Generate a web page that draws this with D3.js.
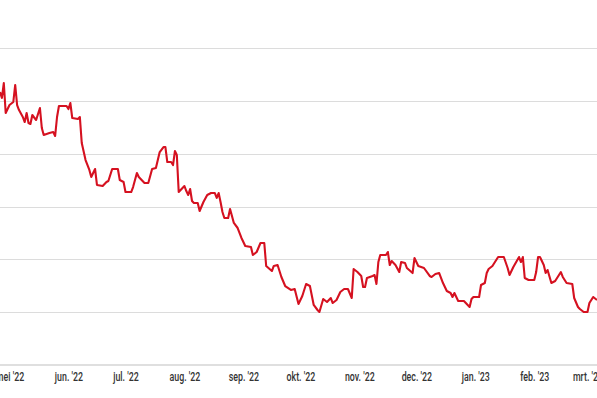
<!DOCTYPE html>
<html>
<head>
<meta charset="utf-8">
<script src="https://cdn.jsdelivr.net/npm/d3@7"></script>
<style>
  body { margin: 0; background: #fff; }
  .tick text { font-family: "Roboto", "Liberation Sans", sans-serif; font-weight: 500; }
</style>
</head>
<body>
<div id="line-graph"></div>
<script>
var width = 597, height = 398

// Data: dates and values
var dates = ["2022-04-26","2022-04-27","2022-04-28","2022-04-29","2022-05-01","2022-05-03","2022-05-04","2022-05-05","2022-05-06","2022-05-08",
  "2022-05-09","2022-05-10","2022-05-11","2022-05-12","2022-05-13","2022-05-15","2022-05-17","2022-05-18","2022-05-19","2022-05-22",
  "2022-05-24","2022-05-25","2022-05-26","2022-05-27","2022-05-31","2022-06-01","2022-06-02","2022-06-03","2022-06-06","2022-06-07",
  "2022-06-08","2022-06-10","2022-06-12","2022-06-13","2022-06-15","2022-06-16","2022-06-19","2022-06-21","2022-06-22","2022-06-24",
  "2022-06-27","2022-06-28","2022-06-30","2022-07-01","2022-07-04","2022-07-05","2022-07-07","2022-07-08","2022-07-11","2022-07-13",
  "2022-07-15","2022-07-17","2022-07-19","2022-07-21","2022-07-22","2022-07-23","2022-07-25","2022-07-26","2022-07-27","2022-07-28",
  "2022-07-29","2022-08-01","2022-08-02","2022-08-03","2022-08-04","2022-08-05","2022-08-06","2022-08-08","2022-08-09","2022-08-11",
  "2022-08-13","2022-08-15","2022-08-17","2022-08-18","2022-08-19","2022-08-20","2022-08-21","2022-08-22","2022-08-24","2022-08-25",
  "2022-08-27","2022-08-29","2022-08-31","2022-09-02","2022-09-05","2022-09-06","2022-09-08","2022-09-10","2022-09-12","2022-09-13",
  "2022-09-16","2022-09-17","2022-09-19","2022-09-21","2022-09-23","2022-09-26","2022-09-28","2022-09-30","2022-10-02","2022-10-04",
  "2022-10-06","2022-10-08","2022-10-10","2022-10-11","2022-10-13","2022-10-15","2022-10-17","2022-10-18","2022-10-20","2022-10-22",
  "2022-10-24","2022-10-26","2022-10-28","2022-10-29","2022-10-31","2022-11-02","2022-11-03","2022-11-04","2022-11-05","2022-11-08",
  "2022-11-09","2022-11-10","2022-11-11","2022-11-12","2022-11-15","2022-11-16","2022-11-17","2022-11-18","2022-11-20","2022-11-22",
  "2022-11-23","2022-11-25","2022-11-26","2022-11-29","2022-11-30","2022-12-02","2022-12-05","2022-12-08","2022-12-09","2022-12-11",
  "2022-12-13","2022-12-15","2022-12-17","2022-12-19","2022-12-20","2022-12-21","2022-12-23","2022-12-26","2022-12-27","2022-12-29",
  "2022-12-30","2022-12-31","2023-01-03","2023-01-04","2023-01-06","2023-01-07","2023-01-08","2023-01-10","2023-01-13","2023-01-14",
  "2023-01-16","2023-01-18","2023-01-19","2023-01-21","2023-01-24","2023-01-25","2023-01-26","2023-01-27","2023-01-29","2023-02-01",
  "2023-02-02","2023-02-03","2023-02-04","2023-02-06","2023-02-07","2023-02-08","2023-02-10","2023-02-12","2023-02-14","2023-02-15",
  "2023-02-16","2023-02-18","2023-02-21","2023-02-22","2023-02-24","2023-02-25","2023-02-27","2023-03-01","2023-03-02","2023-03-04",
  "2023-03-06"]

var values = [51.67,50.54,53.37,47.70,49.21,49.78,53.00,49.21,48.26,46.94,
  45.99,47.70,45.80,45.61,47.32,46.37,48.64,44.86,43.53,43.91,
  44.10,43.34,46.94,49.02,49.02,48.45,49.59,46.75,46.56,46.94,
  42.02,38.80,36.91,35.58,37.10,34.07,33.88,34.64,34.83,37.10,
  37.10,35.01,34.64,32.74,32.74,33.69,36.34,35.58,34.45,34.45,
  37.10,37.29,40.31,41.26,41.26,38.42,38.42,37.85,40.50,39.75,
  32.74,33.88,32.93,32.18,33.31,31.04,30.66,30.66,29.15,30.85,
  32.18,32.55,32.55,31.61,32.55,30.85,28.96,27.82,27.82,29.53,
  26.88,25.93,24.04,22.52,22.33,20.82,21.39,23.09,23.09,18.74,
  17.79,18.74,18.93,16.66,14.95,14.20,14.38,11.55,13.06,15.33,
  14.95,11.36,10.41,10.03,12.49,11.92,12.68,11.73,12.30,13.82,
  14.38,14.38,12.68,18.17,17.60,16.85,14.76,14.76,16.47,16.85,
  17.03,15.33,19.49,20.82,20.82,21.39,18.93,19.68,18.93,17.60,
  19.49,19.31,18.36,17.41,20.25,18.74,18.36,16.85,16.66,17.22,
  17.41,15.52,14.01,13.63,12.87,13.63,12.11,12.11,11.73,10.98,
  12.49,12.87,12.87,15.14,15.52,17.41,18.17,18.74,20.44,20.44,
  20.44,18.36,17.03,18.55,20.44,19.49,20.44,16.47,16.09,16.09,
  17.60,20.44,20.44,18.93,17.41,17.98,15.52,15.90,17.03,17.60,
  16.66,15.52,15.33,12.68,10.98,10.60,10.03,10.03,11.73,12.87,
  12.30]

// Tick labels (Dutch month names)
var monthLabels = ["jan.", "feb.", "mrt.", "apr.", "mei", "jun.", "jul.", "aug.", "sep.", "okt.", "nov.", "dec."]
var yTicks = [0, 10, 20, 30, 40, 50, 60]

var parseDate = d3.timeParse("%Y-%m-%d")
var data = dates.map(function(d, i) { return { date: parseDate(d), value: values[i] } })

var svg = d3.select("#line-graph")
    .append("svg")
    .attr("width", width)
    .attr("height", height)

// Scales
var x = d3.scaleTime()
    .domain([parseDate("2022-04-26"), parseDate("2023-03-06")])
    .range([0, 597])
var y = d3.scaleLinear()
    .domain([0, 60])
    .range([365, 48])

// Gridlines
svg.append("g")
    .attr("class", "grid")
    .selectAll("line")
    .data(yTicks.slice(1))
    .enter().append("line")
    .attr("x1", 0)
    .attr("x2", width)
    .attr("y1", function(d) { return Math.round(y(d)) + 0.5 })
    .attr("y2", function(d) { return Math.round(y(d)) + 0.5 })
    .style("stroke", "#dcdcdc")
    .style("stroke-width", 1)

// X axis
var xAxis = d3.axisBottom(x)
    .ticks(d3.timeMonth.every(1))
    .tickSize(0)
    .tickPadding(7)
    .tickFormat(function(d) {
        return monthLabels[d.getMonth()] + " '" + d3.timeFormat("%y")(d)
    })

var gx = svg.append("g")
    .attr("transform", "translate(0," + y(0) + ")")
    .call(xAxis)
gx.select(".domain")
    .attr("d", "M0,0H" + width)
    .style("stroke", "#d4d4d4")
    .style("stroke-width", 1.5)
// condensed look: squeeze labels horizontally around their centre
gx.selectAll(".tick text")
    .style("font-size", "13px")
    .style("fill", "#333")
    .attr("transform", "scale(0.68,1)")

// The line
var line = d3.line()
    .x(function(d) { return x(d.date) })
    .y(function(d) { return y(d.value) })

svg.append("path")
    .datum(data)
    .attr("d", line)
    .style("fill", "none")
    .style("stroke", "#d51120")
    .style("stroke-width", 2.1)
    .style("stroke-linejoin", "round")
</script>
</body>
</html>
